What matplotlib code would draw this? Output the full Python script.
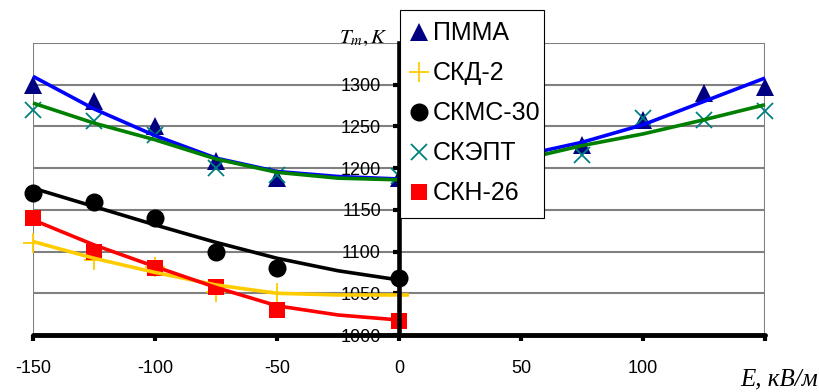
import numpy as np
import matplotlib
matplotlib.use("Agg")
import matplotlib.pyplot as plt
from matplotlib.lines import Line2D
from matplotlib.patches import Rectangle

plt.rcParams['font.family'] = ['Liberation Sans', 'DejaVu Sans']
plt.rcParams['mathtext.fontset'] = 'stix'

# ---- data ----
x_full = [-150, -125, -100, -75, -50, 0, 75, 100, 125, 150]
pmma = [1300, 1280, 1250, 1208, 1188, 1188, 1228, 1258, 1290, 1297]
skept = [1270, 1256, 1240, 1200, 1192, 1190, 1216, 1260, 1258, 1268]

x_neg = [-150, -125, -100, -75, -50, 0]
skd2 = [1110, 1090, 1082, 1052, 1050, 1048]
skms30 = [1170, 1160, 1140, 1100, 1080, 1068]
skn26 = [1140, 1100, 1080, 1057, 1030, 1017]

# trend lines
trend_x_full = [-150, -125, -100, -75, -50, -25, 0, 25, 50, 75, 100, 125, 150]
pmma_trend = [1310, 1271, 1239, 1212, 1196, 1190, 1187, 1198, 1215, 1231, 1252, 1280, 1308]
skept_trend = [1278, 1254, 1234, 1211, 1195, 1188, 1186, 1196, 1210, 1227, 1241, 1258, 1276]
trend_x_neg = [-150, -125, -100, -75, -50, -25, 0]
skms30_trend = [1176, 1154, 1132, 1111, 1092, 1077, 1066]
skn26_trend = [1138, 1108, 1082, 1057, 1035, 1024, 1018]
trend_x_skd2 = [-150, -125, -100, -75, -50, -25, 0, 4]
skd2_trend = [1112, 1092, 1075, 1060, 1050, 1048, 1048, 1048]

labels = ['ПММА', 'СКД-2', 'СКМС-30', 'СКЭПТ', 'СКН-26']
xticks = [-150, -100, -50, 0, 50, 100, 150]
xtick_labels = ['-150', '-100', '-50', '0', '50', '100', '']
yticks = [1000, 1050, 1100, 1150, 1200, 1250, 1300]

W, H = 819, 392
fig = plt.figure(figsize=(W / 100, H / 100), dpi=100)
ax = fig.add_axes([33 / W, 1 - 335 / H, (765 - 33) / W, (335 - 43) / H])
ax.set_xlim(-150, 150)
ax.set_ylim(1000, 1350)

gray = '#808080'
for yv in yticks[1:] + [1350]:
    ax.axhline(yv, color=gray, lw=1.5, zorder=0.5)
ax.axvline(-150, color=gray, lw=1.5, zorder=0.5)
ax.axvline(150, color=gray, lw=1.5, zorder=0.5)

series = [
    (x_full, pmma, trend_x_full, pmma_trend, '#0000FF',
     dict(marker='^', color='#000080', ms=12.5, mew=0)),
    (x_neg, skd2, trend_x_skd2, skd2_trend, '#FFCC00',
     dict(marker='+', color='#FFCC00', ms=15, mew=1.3)),
    (x_neg, skms30, trend_x_neg, skms30_trend, '#000000',
     dict(marker='o', color='#000000', ms=13, mew=0)),
    (x_full, skept, trend_x_full, skept_trend, '#008000',
     dict(marker='x', color='#008080', ms=12, mew=1.3)),
    (x_neg, skn26, trend_x_neg, skn26_trend, '#FF0000',
     dict(marker='s', color='#FF0000', ms=12, mew=0)),
]
handles = []
for xs, ys, tx, ty, lc, mk in series:
    ax.plot(xs, ys, ls='none', zorder=3, clip_on=False, **mk)
    ax.plot(tx, ty, color=lc, lw=2.6, zorder=4, clip_on=False,
            solid_joinstyle='round', solid_capstyle='butt')
    handles.append(Line2D([], [], ls='none', **mk))

# axes styling
ax.spines['top'].set_visible(False)
ax.spines['right'].set_visible(False)
ax.spines['left'].set_position(('data', 0))
ax.spines['left'].set_linewidth(3.3)
ax.spines['left'].set_color('black')
ax.spines['bottom'].set_linewidth(3.5)
ax.spines['bottom'].set_color('black')
ax.spines['bottom'].set_capstyle('round')
ax.spines['left'].set_zorder(5)
ax.spines['bottom'].set_zorder(5)

ax.set_xticks(xticks)
ax.set_xticklabels(xtick_labels)
ax.set_yticks(yticks)
ax.set_yticklabels([str(v) for v in yticks])
ax.tick_params(axis='x', direction='out', length=4, width=3, pad=14, labelsize=13)
ax.tick_params(axis='y', direction='out', length=4, width=3, pad=9, labelsize=13)
for lbl in ax.get_yticklabels():
    lbl.set_zorder(1)

fig.text(387 / W, 1 - 43 / H, r'$T_m,K$', ha='right', va='baseline', fontsize=15)
fig.text(818 / W, 1 - 385 / H, 'E, кВ/м', ha='right', va='baseline', fontsize=18,
         family='Liberation Serif', style='italic')

# legend box
box = Rectangle((400 / W, 1 - 218 / H), (544 - 400) / W, (218 - 10) / H,
                transform=fig.transFigure, facecolor='white', edgecolor='black',
                linewidth=0.8, zorder=9)
fig.patches.append(box)

leg = fig.legend(handles, labels, loc='upper left',
                 bbox_to_anchor=(398 / W, 1 - 10 / H), fontsize=18,
                 frameon=False, borderpad=0.45, labelspacing=0.64,
                 handlelength=0.8, handletextpad=0.15, borderaxespad=0, markerscale=1.0)
leg.set_zorder(10)

fig.savefig('out.png', dpi=100)
